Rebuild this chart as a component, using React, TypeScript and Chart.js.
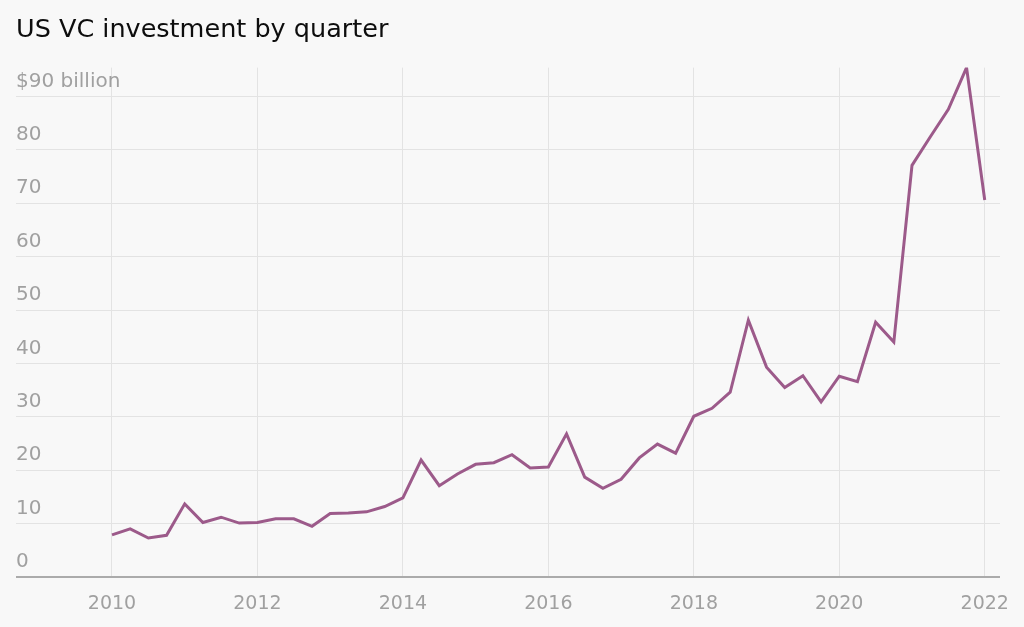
import React, { useEffect, useRef } from "react";
import { Chart, registerables } from "chart.js";

Chart.register(...registerables);

const TITLE = "US VC investment by quarter";
const FIRST_YEAR = 2010;

// Quarterly US VC investment, $ billions, 2010 Q1 .. 2022 Q1
const investment2010 = [7.9, 9.0, 7.3, 7.8];
const investment2011 = [13.7, 10.2, 11.2, 10.1];
const investment2012 = [10.2, 10.9, 10.9, 9.5];
const investment2013 = [11.9, 12.0, 12.2, 13.2];
const investment2014 = [14.8, 21.9, 17.1, 19.3];
const investment2015 = [21.1, 21.4, 22.9, 20.4];
const investment2016 = [20.6, 26.8, 18.7, 16.6];
const investment2017 = [18.3, 22.3, 24.9, 23.2];
const investment2018 = [30.1, 31.6, 34.6, 48.1];
const investment2019 = [39.3, 35.5, 37.7, 32.8];
const investment2020 = [37.6, 36.6, 47.7, 44.0];
const investment2021 = [77.1, 82.4, 87.6, 95.4];
const investment2022 = [70.6];

const xTickYears = [2010, 2012, 2014, 2016, 2018, 2020, 2022];
const yTickValues = [0, 10, 20, 30, 40, 50, 60, 70, 80, 90];
const yTickLabels = ["0", "10", "20", "30", "40", "50", "60", "70", "80", "$90 billion"];

const FONT = "'DejaVu Sans', sans-serif";
const LINE_COLOR = "#9c5a8a";
const GRID_COLOR = "#e3e3e3";
const BASE_COLOR = "#ababab";
const LABEL_COLOR = "#a0a0a0";
const BG = "#f8f8f8";

export default function App() {
  const ref = useRef<HTMLCanvasElement>(null);

  useEffect(() => {
    const canvas = ref.current;
    if (!canvas) return;
    const investment = [
      ...investment2010, ...investment2011, ...investment2012, ...investment2013,
      ...investment2014, ...investment2015, ...investment2016, ...investment2017,
      ...investment2018, ...investment2019, ...investment2020, ...investment2021,
      ...investment2022,
    ];
    const points = investment.map((v, i) => ({ x: FIRST_YEAR + i / 4, y: v }));

    const chart = new Chart(canvas, {
      type: "line",
      data: {
        datasets: [
          {
            data: points,
            borderColor: LINE_COLOR,
            borderWidth: 3,
            pointRadius: 0,
            tension: 0,
            fill: false,
            borderJoinStyle: "miter",
          },
        ],
      },
      options: {
        responsive: false,
        animation: false,
        layout: { padding: { left: 16, right: 24, top: 0, bottom: 0 } },
        plugins: {
          legend: { display: false },
          tooltip: { enabled: false },
          title: {
            display: true,
            text: TITLE,
            align: "start",
            color: "#0d0d0d",
            font: { family: FONT, size: 25.5, weight: "normal", lineHeight: 1.2 },
            padding: { top: 15, bottom: 22 },
          },
        },
        scales: {
          x: {
            type: "linear",
            min: 2008.68,
            max: 2022.21,
            afterBuildTicks: (s: any) => {
              s.ticks = xTickYears.map((v) => ({ value: v }));
            },
            afterFit: (s: any) => {
              s.height = 50;
              s.paddingLeft = 0;
              s.paddingRight = 0;
            },
            ticks: {
              color: LABEL_COLOR,
              font: { family: FONT, size: 19 },
              padding: 16,
              maxRotation: 0,
              autoSkip: false,
              callback: (v: any) => String(v),
            },
            grid: { color: GRID_COLOR, lineWidth: 1, drawTicks: false },
            border: { display: false },
          },
          y: {
            type: "linear",
            min: 0,
            max: 95.4,
            afterBuildTicks: (s: any) => {
              s.ticks = yTickValues.map((v) => ({ value: v }));
            },
            afterFit: (s: any) => {
              s.width = 0;
            },
            ticks: {
              mirror: true,
              labelOffset: -15,
              padding: 0,
              color: LABEL_COLOR,
              font: { family: FONT, size: 20 },
              callback: (_v: any, i: number) => yTickLabels[i],
            },
            grid: {
              color: (ctx: any) => (ctx.tick && ctx.tick.value === 0 ? BASE_COLOR : GRID_COLOR),
              lineWidth: (ctx: any) => (ctx.tick && ctx.tick.value === 0 ? 2 : 1),
              drawTicks: false,
            },
            border: { display: false },
          },
        },
      },
    });
    return () => chart.destroy();
  }, []);

  return (
    <div
      style={{
        position: "fixed",
        left: 0,
        top: 0,
        width: 1024,
        height: 627,
        background: BG,
      }}
    >
      <canvas ref={ref} width={1024} height={627} style={{ display: "block" }} />
    </div>
  );
}
